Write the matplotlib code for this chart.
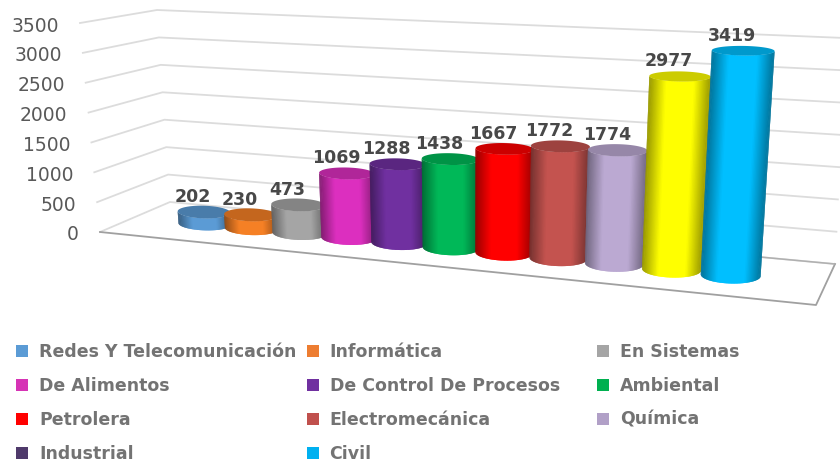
import numpy as np
import matplotlib
matplotlib.use('Agg')
import matplotlib.pyplot as plt
from matplotlib.collections import PolyCollection
from matplotlib.patches import Polygon, Rectangle

# data
categories = ['Redes Y Telecomunicación', 'Informática', 'En Sistemas',
              'De Alimentos', 'De Control De Procesos', 'Ambiental',
              'Petrolera', 'Electromecánica', 'Química', 'Industrial', 'Civil']
values = [202, 230, 473, 1069, 1288, 1438, 1667, 1772, 1774, 2977, 3419]
ticks = [0, 500, 1000, 1500, 2000, 2500, 3000, 3500]
bar_colors = ['#5B9BD5', '#F58025', '#A5A5A5', '#DC2FBF', '#7030A0', '#00B858',
              '#FF0000', '#C4534F', '#BBA9D2', '#FFFF00', '#00BFFF']
legend_colors = ['#5B9BD5', '#ED7D31', '#A5A5A5', '#D633B5', '#7030A0', '#00B050',
                 '#FF0000', '#C0504D', '#B1A0C7', '#4F3A6B', '#00B0F0']

# box corners of the 3D scene in pixels: (value level, depth)
front_bottom = np.array([[100, 233], [816, 306]], dtype=float)
back_bottom = np.array([[170, 203], [835, 265]], dtype=float)
front_top = np.array([[80, 24], [841, 63]], dtype=float)
back_top = np.array([[157, 11], [845, 39]], dtype=float)
vmax = 3500.0


def across(i):
    # category position -> fraction along the box, with perspective
    s = (i + 1.54) / 13.09
    return s / (s + 1.185 * (1 - s))


def project(i, v, d):
    # category, value, depth(0 front, 1 back) -> pixel
    t = across(i)
    fb = front_bottom[0] + t * (front_bottom[1] - front_bottom[0])
    bb = back_bottom[0] + t * (back_bottom[1] - back_bottom[0])
    ft = front_top[0] + t * (front_top[1] - front_top[0])
    bt = back_top[0] + t * (back_top[1] - back_top[0])
    h = v / vmax
    return (1 - d) * ((1 - h) * fb + h * ft) + d * ((1 - h) * bb + h * bt)


def corner(side, v, d):
    # side 0 left wall, side 1 right end of the box
    low = front_bottom[side] * (1 - d) + back_bottom[side] * d
    high = front_top[side] * (1 - d) + back_top[side] * d
    return low + (high - low) * v / vmax


def ellipse(i, v, th, rd=0.21):
    rx = 0.57 - 0.007 * i
    c = project(i, v, 0.5)
    a = (project(i + rx, v, 0.5) - project(i - rx, v, 0.5)) / 2
    a[1] *= 0.3  # ellipses sit nearly level
    semi = (project(i, v, 0.5 - rd)[1] - project(i, v, 0.5 + rd)[1]) / 2
    return c + np.outer(np.cos(th), a) + np.outer(np.sin(th), [0, semi])


def shade(color, f):
    return tuple(np.array(matplotlib.colors.to_rgb(color)) * f)


fig = plt.figure(figsize=(8.4, 4.64), dpi=100)
ax = fig.add_axes([0, 0, 1, 1])
ax.set_xlim(0, 840)
ax.set_ylim(464, 0)
ax.axis('off')

# gridlines on left wall and back wall
for v in ticks:
    p0 = corner(0, v, 0)
    p1 = corner(0, v, 1)
    p2 = corner(1, v, 1)
    ax.plot([p0[0], p1[0], p2[0]], [p0[1], p1[1], p2[1]], color='#dcdcdc', lw=1.3, zorder=1)
    ax.text(p0[0] - 21, p0[1] + 2, str(v), ha='right', va='center', fontsize=13.5, color='#595959')

# floor edges
fl, fr = corner(0, 0, 0), corner(1, 0, 0)
br = corner(1, 0, 1)
ax.plot([fl[0], fr[0], br[0]], [fl[1], fr[1], br[1]], color='#a0a0a0', lw=1.3, zorder=2)
bm = project(8, 0, 1)
ax.plot([bm[0], br[0]], [bm[1], br[1]], color='#b0b0b0', lw=1.1, zorder=2)

# cylinders
z = 3
for i, v in enumerate(values):
    th = np.linspace(0, np.pi, 61)
    low = ellipse(i, 0, th)
    high = ellipse(i, v, th)
    strips, cols = [], []
    for k in range(60):
        # each strip runs under the next one so no seam shows
        e = min(k + 2, 60)
        strips.append([low[k], low[k + 1], low[e], high[e], high[k + 1], high[k]])
        u = abs(np.cos((th[k] + th[k + 1]) / 2))
        cols.append(shade(bar_colors[i], min(1, 0.6 + 0.4 * (1 - u) / 0.55)))
    ax.add_collection(PolyCollection(strips, facecolors=cols, edgecolors='none', zorder=z))
    top = ellipse(i, v, np.linspace(0, 2 * np.pi, 80))
    ax.add_patch(Polygon(top, closed=True, facecolor=shade(bar_colors[i], 0.8), edgecolor='none', zorder=z + 0.5))
    c = project(i, v, 0.5)
    ax.text(c[0] - 11, c[1] - 16, str(v), ha='center', va='center', fontsize=12.5,
            fontweight='bold', color='#484848', zorder=40)
    z += 1

# legend, three columns
for n, name in enumerate(categories):
    col, row = n % 3, n // 3
    lx = 16 + 290.5 * col
    ly = 352 + 34.0 * row
    ax.add_patch(Rectangle((lx, ly - 6), 12, 12, facecolor=legend_colors[n], edgecolor='none', zorder=50))
    ax.text(lx + 23, ly, name, ha='left', va='center', fontsize=12.5, fontweight='bold', color='#737373', zorder=50)

plt.savefig('out.png', dpi=100)
